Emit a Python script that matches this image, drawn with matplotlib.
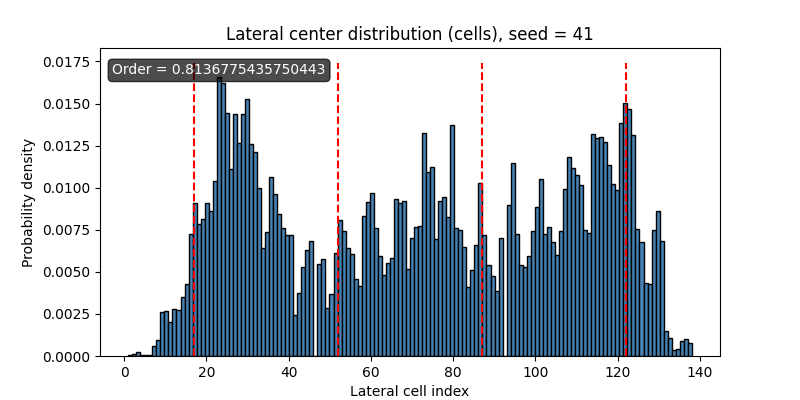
import matplotlib
matplotlib.use('Agg')
import matplotlib.pyplot as plt

seed = 41
order = 0.8136775435750443
n_bins = 140

# lateral cell index of each cell and its probability density
cell_index = list(range(1, 139))
density = [
    # 1 - 16
    0.00004, 0.00012, 0.00022, 0.00008, 0.00008, 0.00008, 0.0006, 0.00095,
    0.0026, 0.0027, 0.0020, 0.00278, 0.00272, 0.0035, 0.00427, 0.00727,
    # 17 - 46
    0.0091, 0.00787, 0.00814, 0.0091, 0.00862, 0.01037, 0.0166, 0.01625,
    0.01446, 0.01114, 0.01436, 0.01263, 0.01436, 0.0153, 0.01259, 0.01213,
    0.0100, 0.00642, 0.00737, 0.01065, 0.0096, 0.00845, 0.0076, 0.00719,
    0.00717, 0.00244, 0.00374, 0.00528, 0.00632, 0.00681,
    # 47 - 92
    0.00546, 0.00576, 0.00286, 0.00369, 0.00612, 0.00809, 0.00741, 0.00640,
    0.00608, 0.00457, 0.00413, 0.00834, 0.00916, 0.00970, 0.00761, 0.00596,
    0.00481, 0.00552, 0.00582, 0.00930, 0.00910, 0.00922, 0.00517, 0.00701,
    0.00767, 0.00771, 0.01327, 0.01095, 0.01126, 0.00695, 0.00922, 0.00946,
    0.00827, 0.01371, 0.00761, 0.00751, 0.00648, 0.00409, 0.00513, 0.00661,
    0.01029, 0.00721, 0.00540, 0.00477, 0.00389, 0.00701,
    # 93 - 138
    0.00900, 0.01144, 0.00725, 0.00540, 0.00528, 0.00596, 0.00745, 0.00886,
    0.01053, 0.00727, 0.00767, 0.00675, 0.00602, 0.00745, 0.00993, 0.01184,
    0.01120, 0.01077, 0.01017, 0.00747, 0.00731, 0.01321, 0.01293, 0.01303,
    0.01271, 0.01132, 0.01025, 0.00985, 0.01382, 0.01506, 0.01470, 0.01315,
    0.00755, 0.00679, 0.00433, 0.00427, 0.00749, 0.00862, 0.00683, 0.00149,
    0.00105, 0.00036, 0.00042, 0.00089, 0.00103, 0.00079,
]
centers = [17, 52, 87, 122]

fig, ax = plt.subplots(figsize=(8, 4), dpi=100)
heights, edges, _ = ax.hist(cell_index, bins=n_bins, weights=density,
                            color='steelblue', edgecolor='black')
ax.vlines(centers, 0, max(heights) * 1.05, colors='red', linestyles='--')

ax.text(0.02, 0.95, f'Order = {order}', transform=ax.transAxes,
        fontsize=10, color='white', va='top',
        bbox=dict(boxstyle='round', facecolor='black', alpha=0.7))

ax.set_title(f'Lateral center distribution (cells), seed = {seed}')
ax.set_xlabel('Lateral cell index')
ax.set_ylabel('Probability density')

plt.savefig('out.png')
